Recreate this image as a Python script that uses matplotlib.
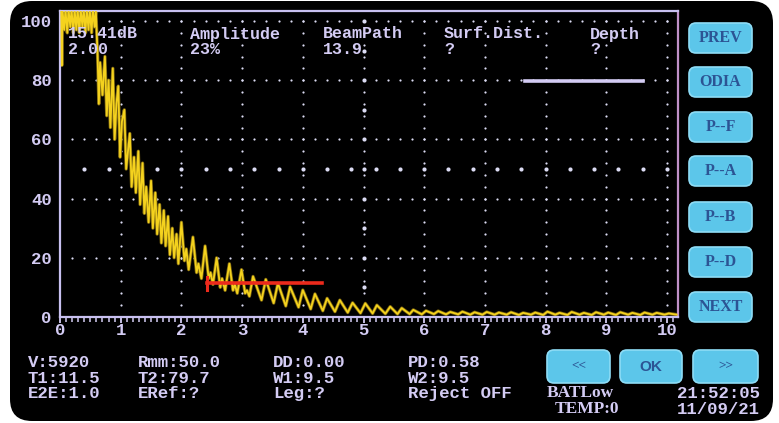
import numpy as np
import matplotlib.pyplot as plt
from matplotlib.patches import FancyBboxPatch
from matplotlib.ticker import MultipleLocator

W, H = 779, 423

# A-scan trace (x in divisions, y in % screen height)
trace_x = [0.00, 0.02, 0.03, 0.04, 0.07, 0.09, 0.12, 0.14, 0.17, 0.19, 0.22, 0.24,
           0.27, 0.29, 0.32, 0.34, 0.37, 0.39, 0.42, 0.44, 0.47, 0.49, 0.52, 0.54,
           0.57, 0.59, 0.62, 0.64, 0.66, 0.70, 0.74, 0.77, 0.80, 0.83, 0.87, 0.90,
           0.93, 0.96, 0.99, 1.02, 1.06, 1.09, 1.12, 1.15, 1.18, 1.22, 1.25, 1.29,
           1.32, 1.36, 1.39, 1.42, 1.46, 1.50, 1.53, 1.57, 1.60, 1.64, 1.67, 1.71,
           1.74, 1.78, 1.81, 1.85, 1.88, 1.92, 1.95, 2.00, 2.05, 2.08, 2.12, 2.19,
           2.25, 2.28, 2.33, 2.39, 2.45, 2.48, 2.52, 2.58, 2.64, 2.67, 2.72, 2.79,
           2.85, 2.88, 2.92, 2.99, 3.05, 3.08, 3.12, 3.18, 3.32, 3.39, 3.52, 3.59,
           3.72, 3.79, 3.93, 4.00, 4.13, 4.20, 4.33, 4.40, 4.53, 4.61, 4.74, 4.82,
           4.95, 5.03, 5.15, 5.22, 5.36, 5.44, 5.56, 5.63, 5.76, 5.82, 5.96, 6.03,
           6.16, 6.23, 6.36, 6.43, 6.56, 6.63, 6.76, 6.83, 6.96, 7.03, 7.16, 7.23,
           7.36, 7.43, 7.56, 7.63, 7.76, 7.83, 7.96, 8.03, 8.16, 8.23, 8.36, 8.43,
           8.56, 8.63, 8.76, 8.83, 8.96, 9.03, 9.16, 9.23, 9.36, 9.43, 9.56, 9.63,
           9.76, 9.83, 9.96, 10.03, 10.16]
trace_y = [104, 104, 85, 104, 97, 104, 96, 104, 98, 104, 96, 104,
           97, 104, 96, 104, 98, 104, 96, 104, 97, 104, 96, 104,
           98, 104, 88, 72, 86, 75, 88, 68, 80, 64, 84, 60,
           72, 78, 54, 66, 70, 50, 56, 62, 44, 54, 42, 56,
           38, 52, 35, 44, 32, 46, 30, 42, 28, 38, 25, 36,
           24, 34, 21, 30, 20, 28, 18, 32, 19, 23, 16, 27,
           15, 18, 13, 24, 13, 15, 11, 20, 10, 13, 9, 18,
           9, 11, 8, 16, 8, 9, 7, 13.7, 5.7, 12.7, 4.7, 11.4,
           3.7, 10.2, 3.3, 9.1, 2.7, 7.8, 2.1, 6.3, 1.8, 5.7, 1.5, 4.8,
           1.3, 4.6, 1.2, 4.0, 1.1, 3.5, 1.0, 3.0, 1.0, 2.4, 0.9, 2.1,
           1.0, 2.0, 0.9, 1.7, 0.9, 1.8, 0.8, 1.6, 0.8, 1.7, 0.8, 1.5,
           0.8, 1.6, 0.7, 1.4, 0.8, 1.5, 0.7, 1.8, 0.8, 1.4, 0.7, 1.7,
           0.8, 1.4, 0.7, 1.6, 0.8, 1.5, 0.7, 1.6, 0.8, 1.4, 0.7, 1.5,
           0.8, 1.4, 0.8, 1.2, 0.8]

gate_a_x = [2.42, 4.31]
gate_a_y = 11.5
gate_b_x = [7.66, 9.60]
gate_b_y = 79.7

x_ticks = list(range(0, 11))
y_ticks = [0, 20, 40, 60, 80, 100]

header_labels = ['15.41dB', 'Amplitude', 'BeamPath', 'Surf.Dist.', 'Depth']
header_values = ['2.00', '23%', '13.9', '?', '?']
header_xpos = [68, 190, 323, 444, 590]

status_rows = [
    ['V:5920', 'Rmm:50.0', 'DD:0.00', 'PD:0.58'],
    ['T1:11.5', 'T2:79.7', 'W1:9.5', 'W2:9.5'],
    ['E2E:1.0', 'ERef:?', 'Leg:?', 'Reject OFF'],
]
status_xpos = [28, 138, 273, 408]
status_ypos = [362, 378, 393]

side_buttons = ['PREV', 'ODIA', 'P--F', 'P--A', 'P--B', 'P--D', 'NEXT']
side_tops = [23, 67, 112, 156, 202, 247, 292]
bottom_buttons = ['<<', 'OK', '>>']
bottom_lefts = [547, 620, 693]
bottom_widths = [63, 62, 65]

LAV = '#d4ccf4'
DOT = '#dcdcf4'
MONO = 'Liberation Mono'


def fx(x):
    return x / W


def fy(y):
    return 1 - y / H


def button(fig, x0, y0, w, h, label, family='Liberation Serif', size=11.5):
    box = FancyBboxPatch((x0 / 100, (H - y0 - h) / 100), w / 100, h / 100,
                         boxstyle='round,pad=0,rounding_size=0.07',
                         transform=fig.dpi_scale_trans,
                         fc='#5cc6ea', ec='#8edcf6', lw=1.2, zorder=5)
    fig.patches.append(box)
    fig.text(fx(x0 + w / 2), fy(y0 + h / 2), label, ha='center', va='center',
             color='#2c5494', family=family, weight='bold', fontsize=size, zorder=6)


def main():
    fig = plt.figure(figsize=(W / 100, H / 100), dpi=100)
    fig.patch.set_facecolor('white')
    bg = FancyBboxPatch((0.10, 0.02), 7.63, 4.20,
                        boxstyle='round,pad=0,rounding_size=0.22',
                        transform=fig.dpi_scale_trans, fc='black', ec='none', zorder=-10)
    fig.patches.append(bg)

    ax = fig.add_axes([fx(60), fy(317), (678 - 60) / W, (317 - 11) / H])
    ax.set_facecolor('black')
    ax.set_xlim(0, 10 * 618 / 607)
    ax.set_ylim(0, 100 * 306 / 296)

    # dotted screen grid
    for yv in [20, 40, 60, 80, 100]:
        xs = np.arange(0.2, 10.05, 0.2)
        ax.scatter(xs, np.full(len(xs), yv), s=2.5, c=DOT, lw=0, zorder=1)
    xs = np.arange(0.4, 10.05, 0.4)
    ax.scatter(xs, np.full(len(xs), 50), s=9, c=DOT, lw=0, zorder=1)
    for xv in range(1, 11):
        ys = np.arange(4, 101, 4)
        ax.scatter(np.full(len(ys), xv), ys, s=2.5, c=DOT, lw=0, zorder=1)
    ys = np.arange(10, 101, 10)
    ax.scatter(np.full(len(ys), 5), ys, s=9, c=DOT, lw=0, zorder=1)

    ax.plot(trace_x, trace_y, color='#7a6410', lw=2.4, zorder=2)
    ax.plot(trace_x, trace_y, color='#f4d21e', lw=1.3, zorder=3)

    ax.plot(gate_a_x, [gate_a_y] * 2, color='#ec2a1c', lw=2.6, zorder=4)
    ax.plot([gate_a_x[0]] * 2, [gate_a_y - 2.5, gate_a_y + 2], color='#ec2a1c', lw=2.2, zorder=4)
    ax.plot(gate_b_x, [gate_b_y] * 2, color=LAV, lw=2.6, zorder=4)

    for side in ['left', 'bottom', 'top']:
        ax.spines[side].set_color('#c8c0f0')
        ax.spines[side].set_linewidth(1.6)
    ax.spines['right'].set_color('#c090c8')
    ax.spines['right'].set_linewidth(1.6)

    ax.set_xticks(x_ticks)
    ax.xaxis.set_minor_locator(MultipleLocator(0.1))
    ax.set_yticks(y_ticks)
    ax.tick_params(axis='x', which='major', direction='out', length=4, width=1.3,
                   color=LAV, pad=0.5)
    ax.tick_params(axis='x', which='minor', direction='out', length=3.5, width=1.1,
                   color=LAV)
    ax.tick_params(axis='y', length=0, pad=6)
    for lab in ax.get_xticklabels() + ax.get_yticklabels():
        lab.set_family(MONO)
        lab.set_weight('bold')
        lab.set_fontsize(12.5)
        lab.set_color(LAV)

    head = dict(color=LAV, family=MONO, weight='bold', fontsize=12, va='center')
    for label, value, xp in zip(header_labels, header_values, header_xpos):
        fig.text(fx(xp), fy(34), label, **head)
        fig.text(fx(xp), fy(50), value, **head)

    txt = dict(color=LAV, family=MONO, weight='bold', fontsize=12.5, va='center')
    for row, yp in zip(status_rows, status_ypos):
        for item, xp in zip(row, status_xpos):
            fig.text(fx(xp), fy(yp), item, **txt)

    serif = dict(color=LAV, family='Liberation Serif', weight='bold', fontsize=12.5, va='center')
    fig.text(fx(547), fy(393), 'BATLow', **serif)
    fig.text(fx(555), fy(409), 'TEMP:0', **serif)
    fig.text(fx(760), fy(393), '21:52:05', ha='right', **txt)
    fig.text(fx(760), fy(409), '11/09/21', ha='right', **txt)

    for label, top in zip(side_buttons, side_tops):
        button(fig, 689, top, 63, 30, label)
    for label, left, w in zip(bottom_buttons, bottom_lefts, bottom_widths):
        fam = 'Liberation Sans' if label == 'OK' else 'Liberation Serif'
        button(fig, left, 350, w, 33, label, family=fam, size=11 if label == 'OK' else 9.5)

    fig.savefig('out.png', dpi=100, facecolor=fig.get_facecolor())


if __name__ == '__main__':
    main()
